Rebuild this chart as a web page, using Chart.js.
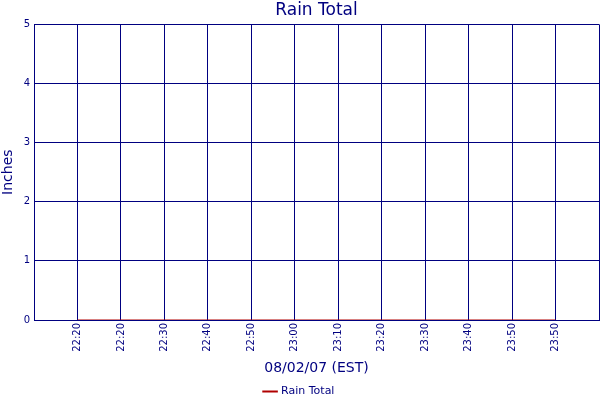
<!DOCTYPE html>
<html>
<head>
    <meta charset="UTF-8">
    <title>Rain Total</title>
    <script src="https://cdn.jsdelivr.net/npm/chart.js"></script>
    <style>
        html, body { margin: 0; padding: 0; background: #fff; }
        #wrap { width: 600px; height: 400px; }
    </style>
</head>
<body>
    <div id="wrap"><canvas id="rainChart"></canvas></div>
    <script>
        // Eixo x: uma casa vazia em cada ponta, como no original
        const timeLabels = ['', '22:20', '22:20', '22:30', '22:40', '22:50', '23:00',
            '23:10', '23:20', '23:30', '23:40', '23:50', '23:50', ''];
        const rainTotal = [null, 0, 0, 0, 0, 0, 0, 0, 0, 0, 0, 0, 0, null];
        const yTicks = [0, 1, 2, 3, 4, 5];

        const navy = '#000080';
        const lineRed = '#b00000';
        const fontFamily = '"DejaVu Sans", Verdana, sans-serif';
        const legendShift = 7; // empurra a legenda para baixo

        new Chart(document.getElementById('rainChart'), {
            type: 'line',
            data: {
                labels: timeLabels,
                datasets: [{
                    label: 'Rain Total',
                    data: rainTotal,
                    borderColor: lineRed,
                    backgroundColor: lineRed,
                    borderWidth: 1,
                    pointRadius: 0,
                    fill: false,
                    spanGaps: false
                }]
            },
            options: {
                responsive: true,
                maintainAspectRatio: false,
                animation: false,
                layout: { padding: { right: 1, left: 0, top: 0, bottom: -legendShift } },
                scales: {
                    x: {
                        offset: false,
                        grid: { color: navy, lineWidth: 1, drawTicks: false },
                        border: { color: navy, width: 1 },
                        ticks: {
                            color: navy,
                            font: { family: fontFamily, size: 10 },
                            minRotation: 90,
                            maxRotation: 90,
                            autoSkip: false,
                            padding: 3
                        },
                        title: {
                            display: true,
                            text: '08/02/07 (EST)',
                            color: navy,
                            font: { family: fontFamily, size: 14 },
                            padding: { top: 8, bottom: legendShift + 1 }
                        },
                        afterFit: function(scale) {
                            scale.paddingLeft = 0;
                            scale.paddingRight = 0;
                            scale.height = scale.chart.height + legendShift - 320 - scale.chart.legend.height;
                        }
                    },
                    y: {
                        min: 0,
                        max: 5,
                        afterBuildTicks: function(scale) {
                            scale.ticks = yTicks.map(v => ({ value: v }));
                        },
                        grid: { color: navy, lineWidth: 1, drawTicks: false },
                        border: { color: navy, width: 1 },
                        ticks: {
                            color: navy,
                            font: { family: fontFamily, size: 10 },
                            padding: 4
                        },
                        title: {
                            display: true,
                            text: 'Inches',
                            color: navy,
                            font: { family: fontFamily, size: 14 },
                            padding: 0
                        },
                        afterFit: function(scale) {
                            scale.paddingTop = 0;
                            scale.paddingBottom = 0;
                            scale.width = 34;
                        }
                    }
                },
                plugins: {
                    title: {
                        display: true,
                        fullSize: false,
                        text: 'Rain Total',
                        color: navy,
                        font: { family: fontFamily, size: 17, weight: 'normal' },
                        padding: { top: 0, bottom: 4 }
                    },
                    legend: {
                        position: 'bottom',
                        labels: {
                            color: navy,
                            font: { family: fontFamily, size: 11 },
                            usePointStyle: true,
                            pointStyle: 'line',
                            boxWidth: 14,
                            padding: 1,
                            generateLabels: function(chart) {
                                const items = Chart.defaults.plugins.legend.labels.generateLabels(chart);
                                items.forEach(it => {
                                    it.lineWidth = 2;
                                    it.strokeStyle = lineRed;
                                });
                                return items;
                            }
                        }
                    },
                    tooltip: { enabled: false }
                }
            }
        });
    </script>
</body>
</html>
